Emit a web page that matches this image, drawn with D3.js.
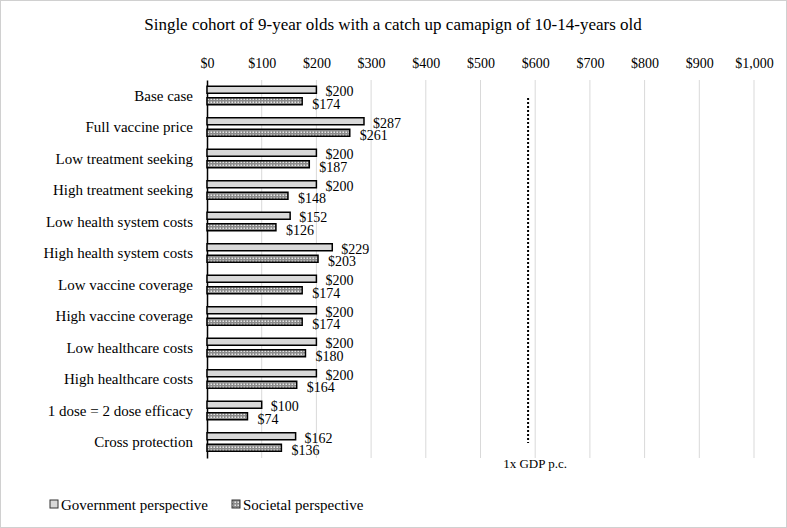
<!DOCTYPE html>
<html>
<head>
<meta charset="utf-8">
<script src="https://cdn.jsdelivr.net/npm/d3@7"></script>
<style>
  body { margin: 0; background: #fff; }
  svg { font-family: "Liberation Serif", "Times New Roman", serif; }
</style>
</head>
<body>
<div id="chart"></div>
<script>
// Scenario data
const scenarios = [
    'Base case', 'Full vaccine price', 'Low treatment seeking', 'High treatment seeking',
    'Low health system costs', 'High health system costs', 'Low vaccine coverage',
    'High vaccine coverage', 'Low healthcare costs', 'High healthcare costs',
    '1 dose = 2 dose efficacy', 'Cross protection'
];
const government = [200, 287, 200, 200, 152, 229, 200, 200, 200, 200, 100, 162];
const societal = [174, 261, 187, 148, 126, 203, 174, 174, 180, 164, 74, 136];
const xTicks = [0, 100, 200, 300, 400, 500, 600, 700, 800, 900, 1000];
const gdpThreshold = 587;

const W = 787, H = 528;
const margin = { top: 80, right: 33, bottom: 70, left: 207 };
const width = W - margin.left - margin.right;
const height = H - margin.top - margin.bottom;

const svg = d3.select('#chart').append('svg')
    .attr('width', W)
    .attr('height', H);

// outer border
svg.append('rect')
    .attr('x', 0.5).attr('y', 0.5)
    .attr('width', W - 1).attr('height', H - 1)
    .attr('fill', '#fff')
    .attr('stroke', '#d0d0d0');

// pattern for societal bars
const defs = svg.append('defs');
const pat = defs.append('pattern')
    .attr('id', 'dots')
    .attr('patternUnits', 'userSpaceOnUse')
    .attr('width', 3).attr('height', 3);
pat.append('rect').attr('width', 3).attr('height', 3).attr('fill', '#8a8a8a');
pat.append('rect').attr('x', 0.5).attr('y', 0.5).attr('width', 1.5).attr('height', 1.5).attr('fill', '#e6e6e6');

const g = svg.append('g')
    .attr('transform', `translate(${margin.left},${margin.top})`);

const x = d3.scaleLinear().domain([0, 1000]).range([0, width]);
const y = d3.scaleBand().domain(scenarios).range([0, height]);

// title
svg.append('text')
    .attr('x', 393).attr('y', 30)
    .attr('text-anchor', 'middle')
    .style('font-size', '17px')
    .text('Single cohort of 9-year olds with a catch up camapign of 10-14-years old');

// gridlines
g.selectAll('.grid')
    .data(xTicks.filter(d => d > 0))
    .enter().append('line')
    .attr('x1', d => x(d)).attr('x2', d => x(d))
    .attr('y1', 0).attr('y2', height)
    .attr('stroke', '#d9d9d9')
    .attr('stroke-width', 1);

// top axis labels
const xAxis = d3.axisTop(x)
    .tickValues(xTicks)
    .tickSize(0)
    .tickPadding(0)
    .tickFormat(d => '$' + d3.format(',')(d));
g.append('g')
    .attr('transform', 'translate(0,-12)')
    .call(xAxis)
    .call(a => a.select('.domain').remove())
    .selectAll('text')
    .style('font-family', '"Liberation Serif", serif')
    .style('font-size', '14px')
    .attr('fill', '#000');

// y axis line + labels
const yAxis = d3.axisLeft(y).tickSize(0).tickPadding(14);
g.append('g')
    .call(yAxis)
    .call(a => a.select('.domain').attr('stroke', '#000').attr('stroke-width', 1.5))
    .selectAll('text')
    .style('font-family', '"Liberation Serif", serif')
    .style('font-size', '15px')
    .attr('fill', '#000');

const barH = 7;
const off = y.bandwidth() / 2;

// government bars
g.selectAll('.gov')
    .data(scenarios)
    .enter().append('rect')
    .attr('x', 0)
    .attr('y', d => y(d) + off - barH - 2.5)
    .attr('width', (d, i) => x(government[i]))
    .attr('height', barH)
    .attr('fill', '#d9d9d9')
    .attr('stroke', '#000')
    .attr('stroke-width', 1.5);

// societal bars
g.selectAll('.soc')
    .data(scenarios)
    .enter().append('rect')
    .attr('x', 0)
    .attr('y', d => y(d) + off + 2)
    .attr('width', (d, i) => x(societal[i]))
    .attr('height', barH)
    .attr('fill', 'url(#dots)')
    .attr('stroke', '#000')
    .attr('stroke-width', 1.5);

// value labels
g.selectAll('.govLab')
    .data(scenarios)
    .enter().append('text')
    .attr('x', (d, i) => x(government[i]) + 9)
    .attr('y', d => y(d) + off + 0.5)
    .style('font-size', '14px')
    .text((d, i) => '$' + government[i]);

g.selectAll('.socLab')
    .data(scenarios)
    .enter().append('text')
    .attr('x', (d, i) => x(societal[i]) + 10)
    .attr('y', d => y(d) + off + 13)
    .style('font-size', '14px')
    .text((d, i) => '$' + societal[i]);

// GDP threshold line
g.append('line')
    .attr('x1', x(gdpThreshold)).attr('x2', x(gdpThreshold))
    .attr('y1', 18).attr('y2', height - 15)
    .attr('stroke', '#000')
    .attr('stroke-width', 2)
    .attr('stroke-dasharray', '2,2');

g.append('text')
    .attr('x', x(gdpThreshold) + 7)
    .attr('y', height + 10)
    .attr('text-anchor', 'middle')
    .style('font-size', '13px')
    .text('1x GDP p.c.');

// legend
const legend = svg.append('g').attr('transform', 'translate(0,510)');
const legendItems = [
    { label: 'Government perspective', fill: '#d9d9d9', x: 50 },
    { label: 'Societal perspective', fill: 'url(#dots)', x: 232 }
];
legendItems.forEach(it => {
    legend.append('rect')
        .attr('x', it.x).attr('y', -10)
        .attr('width', 8).attr('height', 8)
        .attr('fill', it.fill)
        .attr('stroke', '#333')
        .attr('stroke-width', 1);
    legend.append('text')
        .attr('x', it.x + 11)
        .attr('y', 0)
        .style('font-size', '15px')
        .text(it.label);
});
</script>
</body>
</html>
